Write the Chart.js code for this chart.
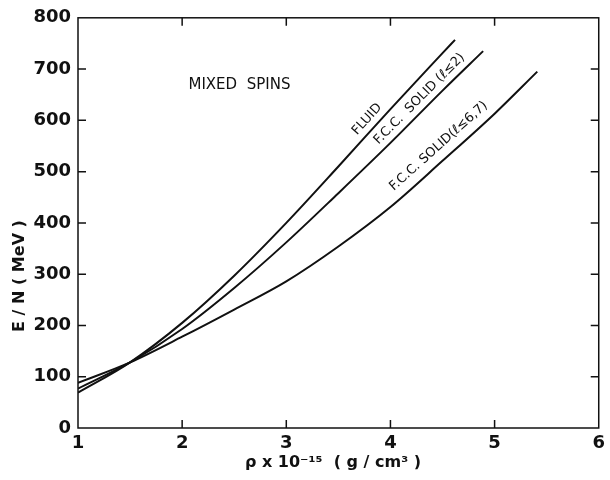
<!DOCTYPE html>
<html>
<head>
<meta charset="utf-8">
<script src="https://cdn.jsdelivr.net/npm/chart.js@4.4.0/dist/chart.umd.min.js"></script>
<style>
  html, body { margin: 0; padding: 0; background: #fff; }
  #wrap { width: 610px; height: 480px; }
</style>
</head>
<body>
<div id="wrap"><canvas id="my_graph" width="610" height="480"></canvas></div>
<script>
// rho x 10^-15 (g/cm3) vs E/N (MeV)
let fluid_x = [1, 1.5, 2, 2.5, 3, 3.5, 4, 4.5, 4.62];
let fluid_y = [69, 128, 205, 297, 400, 510, 622, 731, 757];
let fcc2_x = [1, 1.5, 2, 2.5, 3, 3.5, 4, 4.5, 4.89];
let fcc2_y = [77, 128, 193, 273, 362, 458, 556, 658, 735];
let fcc67_x = [1, 1.5, 2, 2.5, 3, 3.5, 4, 4.5, 5, 5.41];
let fcc67_y = [88, 128, 178, 231, 286, 354, 431, 521, 613, 695];

let x_ticks = [1, 2, 3, 4, 5, 6];
let y_ticks = [0, 100, 200, 300, 400, 500, 600, 700, 800];
let curve_names = ['FLUID', 'F.C.C.  SOLID (\u2113\u22642)', 'F.C.C. SOLID(\u2113\u22646,7)'];

let ink = '#111';
let to_points = (xs, ys) => xs.map((x, i) => ({x: x, y: ys[i]}));

// where each curve gets its name written, along x, and how far above the line
let name_spots = [
    {series: 0, at: 3.85, lift: 4},
    {series: 1, at: 4.35, lift: 4},
    {series: 2, at: 4.55, lift: 7}
];

let interp = (xs, ys, x) => {
    for (let i = 0; i < xs.length - 1; i++) {
        if (x >= xs[i] && x <= xs[i + 1]) {
            let t = (x - xs[i]) / (xs[i + 1] - xs[i]);
            return ys[i] + t * (ys[i + 1] - ys[i]);
        }
    }
    return ys[ys.length - 1];
};

const frame_plugin = {
    id: 'frame',
    afterDatasetsDraw(chart) {
        const ctx = chart.ctx;
        const a = chart.chartArea;
        const sx = chart.scales.x, sy = chart.scales.y;
        ctx.save();
        ctx.strokeStyle = ink;
        ctx.lineWidth = 1.5;
        ctx.strokeRect(a.left, a.top, a.right - a.left, a.bottom - a.top);
        // ticks point inward on all four sides
        let len = 8;
        ctx.beginPath();
        x_ticks.slice(1, -1).forEach(v => {
            let px = sx.getPixelForValue(v);
            ctx.moveTo(px, a.bottom); ctx.lineTo(px, a.bottom - len);
            ctx.moveTo(px, a.top); ctx.lineTo(px, a.top + len);
        });
        y_ticks.slice(1, -1).forEach(v => {
            let py = sy.getPixelForValue(v);
            ctx.moveTo(a.left, py); ctx.lineTo(a.left + len, py);
            ctx.moveTo(a.right, py); ctx.lineTo(a.right - len, py);
        });
        ctx.stroke();

        // curve names, written along each line
        ctx.fillStyle = ink;
        ctx.font = '13px "DejaVu Sans"';
        ctx.textAlign = 'center';
        ctx.textBaseline = 'bottom';
        let all_x = [fluid_x, fcc2_x, fcc67_x];
        let all_y = [fluid_y, fcc2_y, fcc67_y];
        name_spots.forEach(s => {
            let xs = all_x[s.series], ys = all_y[s.series];
            let px = sx.getPixelForValue(s.at);
            let py = sy.getPixelForValue(interp(xs, ys, s.at));
            let p1x = sx.getPixelForValue(s.at - 0.15), p1y = sy.getPixelForValue(interp(xs, ys, s.at - 0.15));
            let p2x = sx.getPixelForValue(s.at + 0.15), p2y = sy.getPixelForValue(interp(xs, ys, s.at + 0.15));
            let ang = Math.atan2(p2y - p1y, p2x - p1x);
            ctx.save();
            ctx.translate(px, py);
            ctx.rotate(ang);
            ctx.fillText(curve_names[s.series], 0, -s.lift);
            ctx.restore();
        });

        // panel note
        ctx.font = '15px "DejaVu Sans"';
        ctx.textBaseline = 'middle';
        ctx.fillText('MIXED  SPINS', sx.getPixelForValue(2.55), sy.getPixelForValue(668));

        // axis titles
        ctx.font = 'bold 16px "DejaVu Sans"';
        ctx.save();
        ctx.translate(20, 276);
        ctx.rotate(-Math.PI / 2);
        ctx.fillText('E / N ( MeV )', 0, 0);
        ctx.restore();
        ctx.fillText('\u03C1 x 10\u207B\u00B9\u2075  ( g / cm\u00B3 )', 333, 463);
        ctx.restore();
    }
};

var ctx = document.getElementById('my_graph').getContext('2d');
var my_graph = new Chart(ctx, {
    type: 'line',
    data: {
        datasets: [
            {label: 'Fluid', data: to_points(fluid_x, fluid_y)},
            {label: 'FCC l<=2', data: to_points(fcc2_x, fcc2_y)},
            {label: 'FCC l<=6,7', data: to_points(fcc67_x, fcc67_y)}
        ].map(d => Object.assign(d, {
            borderColor: ink,
            borderWidth: 2,
            pointRadius: 0,
            fill: false,
            cubicInterpolationMode: 'monotone'
        }))
    },
    options: {
        responsive: false,
        animation: false,
        layout: {
            padding: {left: 0, top: 10, right: 9, bottom: 0}
        },
        plugins: {
            legend: {display: false},
            tooltip: {enabled: false}
        },
        scales: {
            x: {
                type: 'linear',
                min: 1,
                max: 6,
                afterBuildTicks: s => { s.ticks = x_ticks.map(v => ({value: v})); },
                afterFit: s => { s.height = 52; },
                grid: {display: false, drawTicks: false},
                border: {display: false},
                ticks: {
                    color: ink,
                    padding: 5,
                    font: {family: 'DejaVu Sans', size: 18, weight: 'bold'}
                }
            },
            y: {
                min: 0,
                max: 800,
                afterBuildTicks: s => { s.ticks = y_ticks.map(v => ({value: v})); },
                afterFit: s => { s.width = 78; },
                grid: {display: false, drawTicks: false},
                border: {display: false},
                ticks: {
                    color: ink,
                    padding: 7,
                    font: {family: 'DejaVu Sans', size: 18, weight: 'bold'}
                }
            }
        }
    },
    plugins: [frame_plugin]
});
</script>
</body>
</html>
